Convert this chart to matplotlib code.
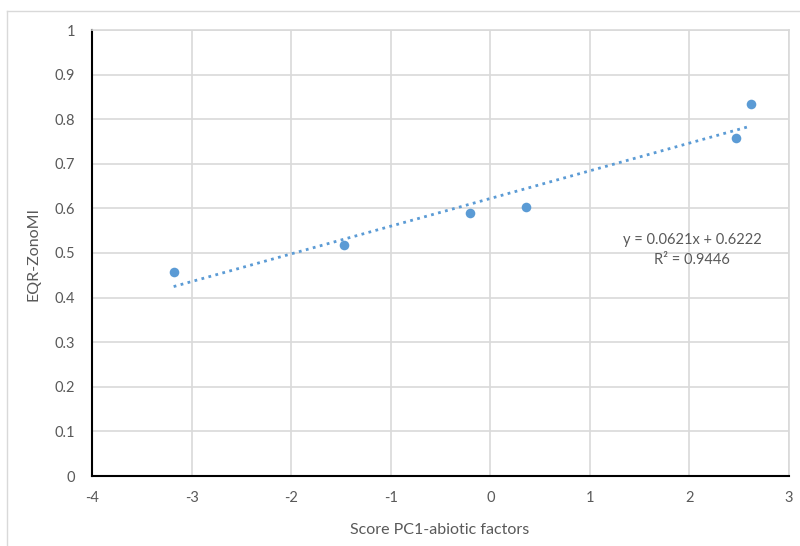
import matplotlib
matplotlib.use("Agg")
import matplotlib.pyplot as plt
from matplotlib.lines import Line2D

plt.rcParams.update({"font.family": ["Lato", "DejaVu Sans"], "font.size": 10.5,
                     "axes.unicode_minus": False})

# data
pc1_score = [-3.18, -1.47, -0.20, 0.36, 2.47, 2.62]
eqr_zonomi = [0.457, 0.518, 0.589, 0.604, 0.757, 0.834]
slope, intercept = 0.0621, 0.6222
r_squared = 0.9446

BLUE = "#5B9BD5"
GREY_TEXT = "#595959"
GRID = "#d9d9d9"

fig = plt.figure(figsize=(8, 5.46), dpi=100)
ax = fig.add_axes([92 / 800, 70 / 546, 697 / 800, 446 / 546])

# chart-area border (cropped on the right/bottom)
fig.add_artist(Line2D([0.00875, 0.00875], [0, 0.98], transform=fig.transFigure, color=GRID, lw=1))
fig.add_artist(Line2D([0.00875, 1], [0.98, 0.98], transform=fig.transFigure, color=GRID, lw=1))

# trendline across the data range
x0, x1 = min(pc1_score), max(pc1_score)
ax.plot([x0, x1], [slope * x0 + intercept, slope * x1 + intercept],
        color=BLUE, lw=2, linestyle=(0, (1, 1.6)), zorder=2)
ax.scatter(pc1_score, eqr_zonomi, s=48, color=BLUE, zorder=3, linewidths=0)

ax.text(2.03, 0.529, f"y = {slope}x + {intercept}", ha="center", va="center",
        color=GREY_TEXT, fontsize=10.5)
ax.text(2.03, 0.484, f"R² = {r_squared}", ha="center", va="center",
        color=GREY_TEXT, fontsize=10.5)

ax.set_xlim(-4, 3)
ax.set_ylim(0, 1)
ax.set_xticks(range(-4, 4))
ax.set_yticks([i / 10 for i in range(11)])
ax.set_yticklabels(["0"] + [f"{i / 10:.1f}" for i in range(1, 10)] + ["1"])
ax.tick_params(length=0, colors=GREY_TEXT, labelsize=10.5)
ax.tick_params(axis="y", pad=12)
ax.tick_params(axis="x", pad=11)

ax.grid(True, color=GRID, lw=1.2)
ax.set_axisbelow(True)
for side in ["top", "right"]:
    ax.spines[side].set_color(GRID)
    ax.spines[side].set_linewidth(1.2)
for side in ["left", "bottom"]:
    ax.spines[side].set_color("black")
    ax.spines[side].set_linewidth(1.5)

ax.set_xlabel("Score PC1-abiotic factors", color=GREY_TEXT, fontsize=11.5)
ax.set_ylabel("EQR-ZonoMI", color=GREY_TEXT, fontsize=11.5)
ax.xaxis.set_label_coords(0.499, -0.105)
ax.yaxis.set_label_coords(-0.0746, 0.497)

fig.savefig("out.png", dpi=100)
